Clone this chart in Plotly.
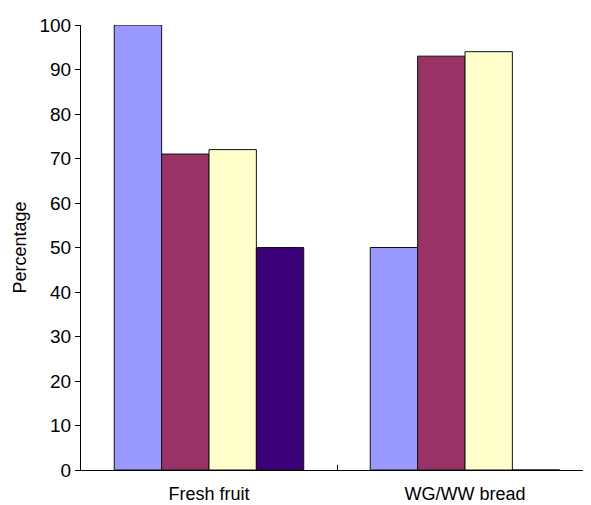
import plotly.graph_objects as go

categories = ["Fresh fruit", "WG/WW bread"]
series_a = [100, 50]
series_b = [71, 93]
series_c = [72, 94]
series_d = [50, 0]
colors = ["#9999FF", "#993366", "#FFFFCC", "#3C0078"]

fig = go.Figure()
for vals, col in zip([series_a, series_b, series_c, series_d], colors):
    fig.add_trace(go.Bar(x=categories, y=vals, marker=dict(color=col, line=dict(color="#111111", width=1)),
                         showlegend=False))

fig.update_layout(
    width=591, height=505,
    margin=dict(l=73, r=6, t=17, b=43, autoexpand=False),
    plot_bgcolor="white", paper_bgcolor="white",
    barmode="group", bargap=0.26, bargroupgap=0,
    font=dict(family="Liberation Sans, Arial, sans-serif", size=19, color="black"),
)
fig.update_yaxes(range=[0, 100], dtick=10, ticks="outside", ticklen=5, tickcolor="black",
                 showline=True, linecolor="black", linewidth=1, showgrid=False, zeroline=False,
                 title=dict(text="Percentage", font=dict(size=18), standoff=8),
                 tickfont=dict(size=19))
fig.update_xaxes(showline=True, linecolor="black", linewidth=1, ticks="inside", tickson="boundaries",
                 ticklen=5, tickcolor="black", showgrid=False, tickfont=dict(size=18),
                 ticklabelstandoff=7)

fig.write_html("out.html")
